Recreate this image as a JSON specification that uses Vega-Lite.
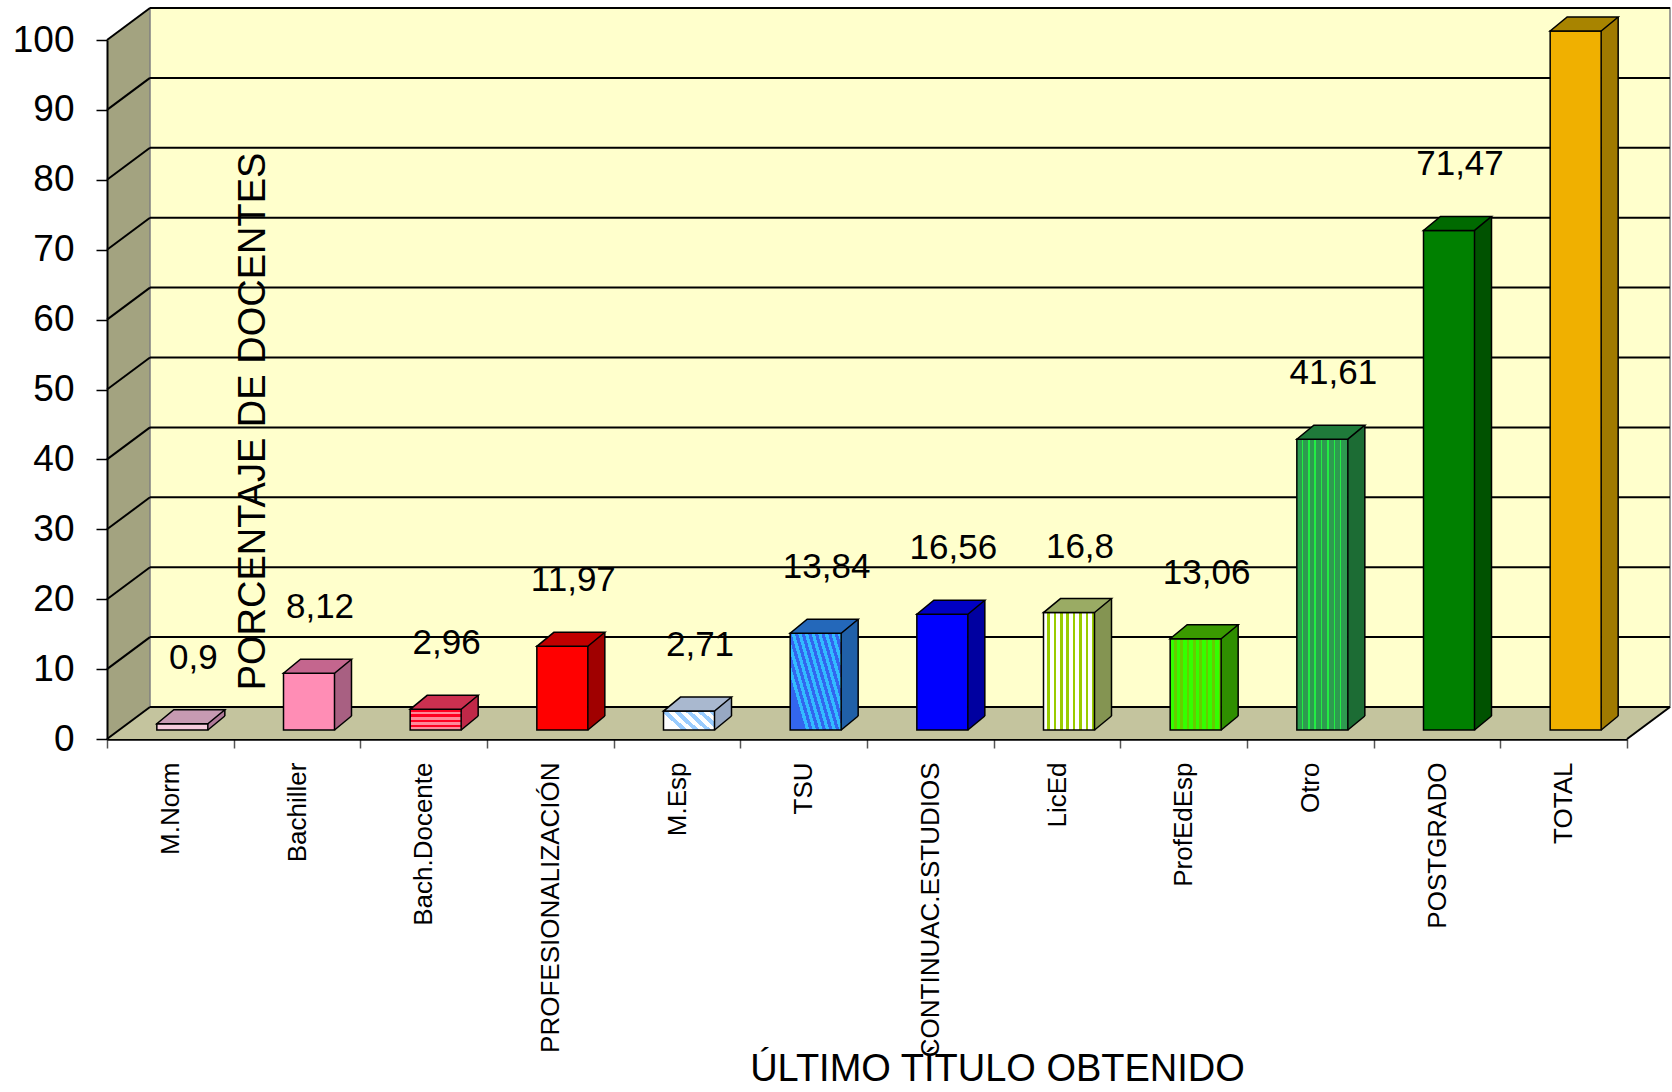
{
  "$schema": "https://vega.github.io/schema/vega-lite/v6.json",
  "width": 1520,
  "height": 699,
  "autosize": "none",
  "padding": {"left": 107, "top": 40, "right": 45, "bottom": 353},
  "background": "white",
  "config": {
    "view": {"stroke": null},
    "font": "Liberation Sans",
    "locale": {"number": {"decimal": ",", "thousands": ".", "grouping": [3], "currency": ["", " €"]}},
    "axisY": {
      "grid": false, "zindex": 1,
      "domainColor": "black", "domainWidth": 2,
      "tickColor": "black", "tickWidth": 1.5, "tickSize": 11,
      "labelFontSize": 37, "labelFont": "Liberation Sans", "labelColor": "black", "labelPadding": 22,
      "titleFontSize": 38, "titleFont": "Liberation Sans", "titleFontWeight": "normal", "titleColor": "black"
    },
    "axisX": {
      "grid": false, "zindex": 1,
      "labelAngle": -90, "labelFontSize": 26, "labelFont": "Liberation Sans", "labelColor": "black",
      "labelPadding": 14, "labelLimit": 500,
      "tickBand": "extent", "tickSize": 9, "tickColor": "#555555", "tickWidth": 1.5,
      "domainColor": "black", "domainWidth": 2.5,
      "titleFontSize": 38, "titleFont": "Liberation Sans", "titleFontWeight": "normal", "titleColor": "black",
      "titleX": 890, "titleY": 330, "titleAlign": "center", "titleBaseline": "middle"
    }
  },
  "datasets": {
    "bars": [
      {"cat": "M.Norm", "v": 0.9},
      {"cat": "Bachiller", "v": 8.12},
      {"cat": "Bach.Docente", "v": 2.96},
      {"cat": "PROFESIONALIZACIÓN", "v": 11.97},
      {"cat": "M.Esp", "v": 2.71},
      {"cat": "TSU", "v": 13.84},
      {"cat": "CONTINUAC.ESTUDIOS", "v": 16.56},
      {"cat": "LicEd", "v": 16.8},
      {"cat": "ProfEdEsp", "v": 13.06},
      {"cat": "Otro", "v": 41.61},
      {"cat": "POSTGRADO", "v": 71.47},
      {"cat": "TOTAL", "v": 100}
    ],
    "grid": [{"g": 0}, {"g": 10}, {"g": 20}, {"g": 30}, {"g": 40}, {"g": 50}, {"g": 60}, {"g": 70}, {"g": 80}, {"g": 90}, {"g": 100}]
  },
  "resolve": {"scale": {"x": "independent"}},
  "layer": [
    {
      "data": {"name": "grid"},
      "layer": [
        {
          "transform": [{"filter": "datum.g == 0"}],
          "mark": {"type": "point", "shape": "M0,0L0,-699L43,-731L43,-32Z", "size": 4, "filled": true, "opacity": 1, "fill": "#A3A380", "strokeWidth": 0},
          "encoding": {
            "x": {"datum": 0, "type": "quantitative", "scale": {"domain": [0, 1]}, "axis": {"orient": "top", "domain": false, "ticks": false, "labels": false, "grid": false, "title": null}},
            "y": {"datum": 0, "type": "quantitative", "scale": {"domain": [0, 100], "nice": false}, "axis": {"title": "PORCENTAJE DE DOCENTES", "values": [0, 10, 20, 30, 40, 50, 60, 70, 80, 90, 100], "zindex": 1, "titleX": 146, "titleY": 381, "titleAngle": 270, "titleAlign": "center", "titleBaseline": "middle"}}
          }
        },
        {
          "transform": [{"filter": "datum.g == 0"}],
          "mark": {"type": "rect", "fill": "#FFFFCC", "stroke": "#808080", "strokeWidth": 1.5, "xOffset": 43, "x2Offset": 43, "yOffset": -32, "y2Offset": -32},
          "encoding": {
            "x": {"datum": 0, "type": "quantitative", "scale": {"domain": [0, 1]}, "axis": {"orient": "top", "domain": false, "ticks": false, "labels": false, "grid": false, "title": null}},
            "x2": {"datum": 1},
            "y": {"datum": 100, "type": "quantitative", "scale": {"domain": [0, 100], "nice": false}, "axis": {"title": "PORCENTAJE DE DOCENTES", "values": [0, 10, 20, 30, 40, 50, 60, 70, 80, 90, 100], "zindex": 1, "titleX": 146, "titleY": 381, "titleAngle": 270, "titleAlign": "center", "titleBaseline": "middle"}},
            "y2": {"datum": 0}
          }
        },
        {
          "transform": [{"filter": "datum.g == 0"}],
          "mark": {"type": "point", "shape": "M0,0L1520,0L1563,-32L43,-32Z", "size": 4, "filled": true, "opacity": 1, "fill": "#C4C49E", "strokeWidth": 0},
          "encoding": {
            "x": {"datum": 0, "type": "quantitative", "scale": {"domain": [0, 1]}, "axis": {"orient": "top", "domain": false, "ticks": false, "labels": false, "grid": false, "title": null}},
            "y": {"datum": 0, "type": "quantitative", "scale": {"domain": [0, 100], "nice": false}, "axis": {"title": "PORCENTAJE DE DOCENTES", "values": [0, 10, 20, 30, 40, 50, 60, 70, 80, 90, 100], "zindex": 1, "titleX": 146, "titleY": 381, "titleAngle": 270, "titleAlign": "center", "titleBaseline": "middle"}}
          }
        },
        {
          "transform": [{"filter": "datum.g == 0"}],
          "mark": {"type": "point", "shape": "M1520,0L1563,-32", "size": 4, "filled": false, "opacity": 1, "stroke": "black", "strokeWidth": 2},
          "encoding": {
            "x": {"datum": 0, "type": "quantitative", "scale": {"domain": [0, 1]}, "axis": {"orient": "top", "domain": false, "ticks": false, "labels": false, "grid": false, "title": null}},
            "y": {"datum": 0, "type": "quantitative", "scale": {"domain": [0, 100], "nice": false}, "axis": {"title": "PORCENTAJE DE DOCENTES", "values": [0, 10, 20, 30, 40, 50, 60, 70, 80, 90, 100], "zindex": 1, "titleX": 146, "titleY": 381, "titleAngle": 270, "titleAlign": "center", "titleBaseline": "middle"}}
          }
        },
        {
          "mark": {"type": "rule", "color": "black", "strokeWidth": 2, "xOffset": 43, "x2Offset": 43, "yOffset": -32},
          "encoding": {
            "x": {"datum": 0, "type": "quantitative", "scale": {"domain": [0, 1]}, "axis": {"orient": "top", "domain": false, "ticks": false, "labels": false, "grid": false, "title": null}},
            "x2": {"datum": 1},
            "y": {"field": "g", "type": "quantitative", "scale": {"domain": [0, 100], "nice": false}, "axis": {"title": "PORCENTAJE DE DOCENTES", "values": [0, 10, 20, 30, 40, 50, 60, 70, 80, 90, 100], "zindex": 1, "titleX": 146, "titleY": 381, "titleAngle": 270, "titleAlign": "center", "titleBaseline": "middle"}}
          }
        },
        {
          "mark": {"type": "point", "shape": "M0,0L43,-32", "size": 4, "filled": false, "opacity": 1, "stroke": "black", "strokeWidth": 2},
          "encoding": {
            "x": {"datum": 0, "type": "quantitative", "scale": {"domain": [0, 1]}, "axis": {"orient": "top", "domain": false, "ticks": false, "labels": false, "grid": false, "title": null}},
            "y": {"field": "g", "type": "quantitative", "scale": {"domain": [0, 100], "nice": false}, "axis": {"title": "PORCENTAJE DE DOCENTES", "values": [0, 10, 20, 30, 40, 50, 60, 70, 80, 90, 100], "zindex": 1, "titleX": 146, "titleY": 381, "titleAngle": 270, "titleAlign": "center", "titleBaseline": "middle"}}
          }
        }
      ]
    },
    {
      "data": {"name": "bars"},
      "resolve": {"scale": {"fill": "independent"}},
      "layer": [
        {
          "mark": {"type": "bar", "width": 17, "xOffset": 46, "yOffset": -23, "y2Offset": -9},
          "encoding": {
            "x": {"field": "cat", "type": "nominal", "scale": {"domain": ["M.Norm", "Bachiller", "Bach.Docente", "PROFESIONALIZACIÓN", "M.Esp", "TSU", "CONTINUAC.ESTUDIOS", "LicEd", "ProfEdEsp", "Otro", "POSTGRADO", "TOTAL"], "paddingInner": 0, "paddingOuter": 0}, "axis": {"title": "ÚLTIMO TÍTULO OBTENIDO", "orient": "bottom"}},
            "y": {"field": "v", "type": "quantitative", "scale": {"domain": [0, 100], "nice": false}, "axis": {"title": "PORCENTAJE DE DOCENTES", "values": [0, 10, 20, 30, 40, 50, 60, 70, 80, 90, 100], "zindex": 1, "titleX": 146, "titleY": 381, "titleAngle": 270, "titleAlign": "center", "titleBaseline": "middle"}},
            "y2": {"datum": 0},
            "fill": {"field": "cat", "type": "nominal", "legend": null, "scale": {"domain": ["M.Norm", "Bachiller", "Bach.Docente", "PROFESIONALIZACIÓN", "M.Esp", "TSU", "CONTINUAC.ESTUDIOS", "LicEd", "ProfEdEsp", "Otro", "POSTGRADO", "TOTAL"], "range": ["#B07A98", "#A86082", "#C02848", "#A00000", "#97A8C2", "#2060A8", "#0000A0", "#849452", "#2F8F00", "#1C6C34", "#005200", "#A07A00"]}}
          }
        },
        {
          "mark": {"type": "point", "shape": "M-9.7,1L10.5,1L10.5,-15L9.7,-15Z", "size": 4, "filled": true, "opacity": 1, "fill": "#C4C49E", "strokeWidth": 0, "xOffset": 46, "yOffset": -9},
          "encoding": {
            "x": {"field": "cat", "type": "nominal", "axis": {"title": "ÚLTIMO TÍTULO OBTENIDO", "orient": "bottom"}},
            "y": {"datum": 0, "type": "quantitative", "scale": {"domain": [0, 100], "nice": false}, "axis": {"title": "PORCENTAJE DE DOCENTES", "values": [0, 10, 20, 30, 40, 50, 60, 70, 80, 90, 100], "zindex": 1, "titleX": 146, "titleY": 381, "titleAngle": 270, "titleAlign": "center", "titleBaseline": "middle"}}
          }
        },
        {
          "mark": {"type": "point", "shape": "M-8.5,0L8.5,-14", "size": 4, "filled": false, "opacity": 1, "stroke": "black", "strokeWidth": 1.5, "xOffset": 46, "yOffset": -9},
          "encoding": {
            "x": {"field": "cat", "type": "nominal", "axis": {"title": "ÚLTIMO TÍTULO OBTENIDO", "orient": "bottom"}},
            "y": {"datum": 0, "type": "quantitative", "scale": {"domain": [0, 100], "nice": false}, "axis": {"title": "PORCENTAJE DE DOCENTES", "values": [0, 10, 20, 30, 40, 50, 60, 70, 80, 90, 100], "zindex": 1, "titleX": 146, "titleY": 381, "titleAngle": 270, "titleAlign": "center", "titleBaseline": "middle"}}
          }
        },
        {
          "mark": {"type": "rule", "color": "black", "strokeWidth": 1.5, "xOffset": 54.5, "yOffset": -23, "y2Offset": -23},
          "encoding": {
            "x": {"field": "cat", "type": "nominal", "axis": {"title": "ÚLTIMO TÍTULO OBTENIDO", "orient": "bottom"}},
            "y": {"field": "v", "type": "quantitative", "scale": {"domain": [0, 100], "nice": false}, "axis": {"title": "PORCENTAJE DE DOCENTES", "values": [0, 10, 20, 30, 40, 50, 60, 70, 80, 90, 100], "zindex": 1, "titleX": 146, "titleY": 381, "titleAngle": 270, "titleAlign": "center", "titleBaseline": "middle"}},
            "y2": {"datum": 0}
          }
        },
        {
          "mark": {"type": "bar", "width": 51, "xOffset": 12, "yOffset": -9, "y2Offset": -9, "stroke": "black", "strokeWidth": 1.5},
          "encoding": {
            "x": {"field": "cat", "type": "nominal", "axis": {"title": "ÚLTIMO TÍTULO OBTENIDO", "orient": "bottom"}},
            "y": {"field": "v", "type": "quantitative", "scale": {"domain": [0, 100], "nice": false}, "axis": {"title": "PORCENTAJE DE DOCENTES", "values": [0, 10, 20, 30, 40, 50, 60, 70, 80, 90, 100], "zindex": 1, "titleX": 146, "titleY": 381, "titleAngle": 270, "titleAlign": "center", "titleBaseline": "middle"}},
            "y2": {"datum": 0},
            "fill": {
              "field": "cat", "type": "nominal", "legend": null,
              "scale": {"domain": ["M.Norm", "Bachiller", "Bach.Docente", "PROFESIONALIZACIÓN", "M.Esp", "TSU", "CONTINUAC.ESTUDIOS", "LicEd", "ProfEdEsp", "Otro", "POSTGRADO", "TOTAL"], "range": ["#F6CCDD", "#FF8DB5", "#F2345A", "#FF0000", "#C6E0FA", "#2E8DEA", "#0000FF", "#D9EC8A", "#3BEA00", "#2AA04C", "#008000", "#F0B000"]},
              "condition": [
                {"test": "datum.cat === 'LicEd'", "value": {"gradient": "linear", "x1": 0, "y1": 0, "x2": 1, "y2": 0, "stops": [
                  {"offset": 0, "color": "#FFFFFF"}, {"offset": 0.075, "color": "#FFFFFF"}, {"offset": 0.075, "color": "#99CC00"}, {"offset": 0.125, "color": "#99CC00"},
                  {"offset": 0.125, "color": "#FFFFFF"}, {"offset": 0.2, "color": "#FFFFFF"}, {"offset": 0.2, "color": "#99CC00"}, {"offset": 0.25, "color": "#99CC00"},
                  {"offset": 0.25, "color": "#FFFFFF"}, {"offset": 0.325, "color": "#FFFFFF"}, {"offset": 0.325, "color": "#99CC00"}, {"offset": 0.375, "color": "#99CC00"},
                  {"offset": 0.375, "color": "#FFFFFF"}, {"offset": 0.45, "color": "#FFFFFF"}, {"offset": 0.45, "color": "#99CC00"}, {"offset": 0.5, "color": "#99CC00"},
                  {"offset": 0.5, "color": "#FFFFFF"}, {"offset": 0.575, "color": "#FFFFFF"}, {"offset": 0.575, "color": "#99CC00"}, {"offset": 0.625, "color": "#99CC00"},
                  {"offset": 0.625, "color": "#FFFFFF"}, {"offset": 0.7, "color": "#FFFFFF"}, {"offset": 0.7, "color": "#99CC00"}, {"offset": 0.75, "color": "#99CC00"},
                  {"offset": 0.75, "color": "#FFFFFF"}, {"offset": 0.825, "color": "#FFFFFF"}, {"offset": 0.825, "color": "#99CC00"}, {"offset": 0.875, "color": "#99CC00"},
                  {"offset": 0.875, "color": "#FFFFFF"}, {"offset": 0.95, "color": "#FFFFFF"}, {"offset": 0.95, "color": "#99CC00"}, {"offset": 1, "color": "#99CC00"}]}},
                {"test": "datum.cat === 'ProfEdEsp'", "value": {"gradient": "linear", "x1": 0, "y1": 0, "x2": 1, "y2": 0, "stops": [
                  {"offset": 0, "color": "#33FF00"}, {"offset": 0.075, "color": "#33FF00"}, {"offset": 0.075, "color": "#66CC00"}, {"offset": 0.125, "color": "#66CC00"},
                  {"offset": 0.125, "color": "#33FF00"}, {"offset": 0.2, "color": "#33FF00"}, {"offset": 0.2, "color": "#66CC00"}, {"offset": 0.25, "color": "#66CC00"},
                  {"offset": 0.25, "color": "#33FF00"}, {"offset": 0.325, "color": "#33FF00"}, {"offset": 0.325, "color": "#66CC00"}, {"offset": 0.375, "color": "#66CC00"},
                  {"offset": 0.375, "color": "#33FF00"}, {"offset": 0.45, "color": "#33FF00"}, {"offset": 0.45, "color": "#66CC00"}, {"offset": 0.5, "color": "#66CC00"},
                  {"offset": 0.5, "color": "#33FF00"}, {"offset": 0.575, "color": "#33FF00"}, {"offset": 0.575, "color": "#66CC00"}, {"offset": 0.625, "color": "#66CC00"},
                  {"offset": 0.625, "color": "#33FF00"}, {"offset": 0.7, "color": "#33FF00"}, {"offset": 0.7, "color": "#66CC00"}, {"offset": 0.75, "color": "#66CC00"},
                  {"offset": 0.75, "color": "#33FF00"}, {"offset": 0.825, "color": "#33FF00"}, {"offset": 0.825, "color": "#66CC00"}, {"offset": 0.875, "color": "#66CC00"},
                  {"offset": 0.875, "color": "#33FF00"}, {"offset": 0.95, "color": "#33FF00"}, {"offset": 0.95, "color": "#66CC00"}, {"offset": 1, "color": "#66CC00"}]}},
                {"test": "datum.cat === 'Otro'", "value": {"gradient": "linear", "x1": 0, "y1": 0, "x2": 1, "y2": 0, "stops": [
                  {"offset": 0, "color": "#2E9A50"}, {"offset": 0.095, "color": "#2E9A50"}, {"offset": 0.095, "color": "#22EE44"}, {"offset": 0.125, "color": "#22EE44"},
                  {"offset": 0.125, "color": "#2E9A50"}, {"offset": 0.22, "color": "#2E9A50"}, {"offset": 0.22, "color": "#22EE44"}, {"offset": 0.25, "color": "#22EE44"},
                  {"offset": 0.25, "color": "#2E9A50"}, {"offset": 0.345, "color": "#2E9A50"}, {"offset": 0.345, "color": "#22EE44"}, {"offset": 0.375, "color": "#22EE44"},
                  {"offset": 0.375, "color": "#2E9A50"}, {"offset": 0.47, "color": "#2E9A50"}, {"offset": 0.47, "color": "#22EE44"}, {"offset": 0.5, "color": "#22EE44"},
                  {"offset": 0.5, "color": "#2E9A50"}, {"offset": 0.595, "color": "#2E9A50"}, {"offset": 0.595, "color": "#22EE44"}, {"offset": 0.625, "color": "#22EE44"},
                  {"offset": 0.625, "color": "#2E9A50"}, {"offset": 0.72, "color": "#2E9A50"}, {"offset": 0.72, "color": "#22EE44"}, {"offset": 0.75, "color": "#22EE44"},
                  {"offset": 0.75, "color": "#2E9A50"}, {"offset": 0.845, "color": "#2E9A50"}, {"offset": 0.845, "color": "#22EE44"}, {"offset": 0.875, "color": "#22EE44"},
                  {"offset": 0.875, "color": "#2E9A50"}, {"offset": 1, "color": "#2E9A50"}]}},
                {"test": "datum.cat === 'Bach.Docente'", "value": {"gradient": "linear", "x1": 0, "y1": 0, "x2": 0, "y2": 1, "stops": [
                  {"offset": 0, "color": "#FF0022"}, {"offset": 0.125, "color": "#FF0022"}, {"offset": 0.125, "color": "#FF8899"}, {"offset": 0.25, "color": "#FF8899"},
                  {"offset": 0.25, "color": "#FF0022"}, {"offset": 0.375, "color": "#FF0022"}, {"offset": 0.375, "color": "#FF8899"}, {"offset": 0.5, "color": "#FF8899"},
                  {"offset": 0.5, "color": "#FF0022"}, {"offset": 0.625, "color": "#FF0022"}, {"offset": 0.625, "color": "#FF8899"}, {"offset": 0.75, "color": "#FF8899"},
                  {"offset": 0.75, "color": "#FF0022"}, {"offset": 0.875, "color": "#FF0022"}, {"offset": 0.875, "color": "#FF8899"}, {"offset": 1, "color": "#FF8899"}]}},
                {"test": "datum.cat === 'TSU'", "value": {"gradient": "linear", "x1": 0, "y1": 0.55, "x2": 1, "y2": 0, "stops": [
                  {"offset": 0, "color": "#3366EE"}, {"offset": 0.05, "color": "#3366EE"}, {"offset": 0.05, "color": "#33BBFF"}, {"offset": 0.1, "color": "#33BBFF"},
                  {"offset": 0.1, "color": "#3366EE"}, {"offset": 0.15, "color": "#3366EE"}, {"offset": 0.15, "color": "#33BBFF"}, {"offset": 0.2, "color": "#33BBFF"},
                  {"offset": 0.2, "color": "#3366EE"}, {"offset": 0.25, "color": "#3366EE"}, {"offset": 0.25, "color": "#33BBFF"}, {"offset": 0.3, "color": "#33BBFF"},
                  {"offset": 0.3, "color": "#3366EE"}, {"offset": 0.35, "color": "#3366EE"}, {"offset": 0.35, "color": "#33BBFF"}, {"offset": 0.4, "color": "#33BBFF"},
                  {"offset": 0.4, "color": "#3366EE"}, {"offset": 0.45, "color": "#3366EE"}, {"offset": 0.45, "color": "#33BBFF"}, {"offset": 0.5, "color": "#33BBFF"},
                  {"offset": 0.5, "color": "#3366EE"}, {"offset": 0.55, "color": "#3366EE"}, {"offset": 0.55, "color": "#33BBFF"}, {"offset": 0.6, "color": "#33BBFF"},
                  {"offset": 0.6, "color": "#3366EE"}, {"offset": 0.65, "color": "#3366EE"}, {"offset": 0.65, "color": "#33BBFF"}, {"offset": 0.7, "color": "#33BBFF"},
                  {"offset": 0.7, "color": "#3366EE"}, {"offset": 0.75, "color": "#3366EE"}, {"offset": 0.75, "color": "#33BBFF"}, {"offset": 0.8, "color": "#33BBFF"},
                  {"offset": 0.8, "color": "#3366EE"}, {"offset": 0.85, "color": "#3366EE"}, {"offset": 0.85, "color": "#33BBFF"}, {"offset": 0.9, "color": "#33BBFF"},
                  {"offset": 0.9, "color": "#3366EE"}, {"offset": 0.95, "color": "#3366EE"}, {"offset": 0.95, "color": "#33BBFF"}, {"offset": 1, "color": "#33BBFF"}]}},
                {"test": "datum.cat === 'M.Esp'", "value": {"gradient": "linear", "x1": 0, "y1": 0.4, "x2": 1, "y2": 0, "stops": [
                  {"offset": 0, "color": "#FFFFFF"}, {"offset": 0.1, "color": "#FFFFFF"}, {"offset": 0.1, "color": "#99CCFF"}, {"offset": 0.2, "color": "#99CCFF"},
                  {"offset": 0.2, "color": "#FFFFFF"}, {"offset": 0.3, "color": "#FFFFFF"}, {"offset": 0.3, "color": "#99CCFF"}, {"offset": 0.4, "color": "#99CCFF"},
                  {"offset": 0.4, "color": "#FFFFFF"}, {"offset": 0.5, "color": "#FFFFFF"}, {"offset": 0.5, "color": "#99CCFF"}, {"offset": 0.6, "color": "#99CCFF"},
                  {"offset": 0.6, "color": "#FFFFFF"}, {"offset": 0.7, "color": "#FFFFFF"}, {"offset": 0.7, "color": "#99CCFF"}, {"offset": 0.8, "color": "#99CCFF"},
                  {"offset": 0.8, "color": "#FFFFFF"}, {"offset": 0.9, "color": "#FFFFFF"}, {"offset": 0.9, "color": "#99CCFF"}, {"offset": 1, "color": "#99CCFF"}]}}
              ]
            }
          }
        },
        {
          "mark": {"type": "point", "shape": "M-25.5,0L25.5,0L42.5,-14L-8.5,-14Z", "size": 4, "filled": true, "opacity": 1, "stroke": "black", "strokeWidth": 1.5, "xOffset": 12, "yOffset": -9},
          "encoding": {
            "x": {"field": "cat", "type": "nominal", "axis": {"title": "ÚLTIMO TÍTULO OBTENIDO", "orient": "bottom"}},
            "y": {"field": "v", "type": "quantitative", "scale": {"domain": [0, 100], "nice": false}, "axis": {"title": "PORCENTAJE DE DOCENTES", "values": [0, 10, 20, 30, 40, 50, 60, 70, 80, 90, 100], "zindex": 1, "titleX": 146, "titleY": 381, "titleAngle": 270, "titleAlign": "center", "titleBaseline": "middle"}},
            "fill": {"field": "cat", "type": "nominal", "legend": null, "scale": {"domain": ["M.Norm", "Bachiller", "Bach.Docente", "PROFESIONALIZACIÓN", "M.Esp", "TSU", "CONTINUAC.ESTUDIOS", "LicEd", "ProfEdEsp", "Otro", "POSTGRADO", "TOTAL"], "range": ["#C79AB2", "#C4668E", "#CC3050", "#C00000", "#A9B8CF", "#2468BA", "#0000C4", "#9AAB64", "#3A9A00", "#1F7A3A", "#006A00", "#A88400"]}}
          }
        },
        {
          "transform": [{"filter": "datum.cat != 'TOTAL'"}],
          "mark": {"type": "text", "font": "Liberation Sans", "fontSize": 35, "color": "black", "align": "center", "baseline": "middle", "dx": 23, "dy": -75},
          "encoding": {
            "x": {"field": "cat", "type": "nominal", "axis": {"title": "ÚLTIMO TÍTULO OBTENIDO", "orient": "bottom"}},
            "y": {"field": "v", "type": "quantitative", "scale": {"domain": [0, 100], "nice": false}, "axis": {"title": "PORCENTAJE DE DOCENTES", "values": [0, 10, 20, 30, 40, 50, 60, 70, 80, 90, 100], "zindex": 1, "titleX": 146, "titleY": 381, "titleAngle": 270, "titleAlign": "center", "titleBaseline": "middle"}},
            "text": {"field": "v", "type": "quantitative", "format": "~g"}
          }
        }
      ]
    }
  ]
}
